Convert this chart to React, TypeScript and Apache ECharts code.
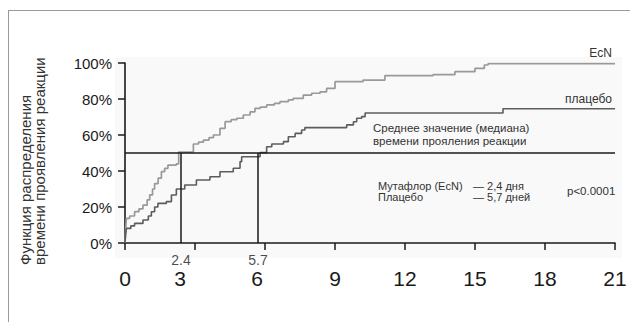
import React, { useEffect, useRef } from 'react';
import * as echarts from 'echarts';

const xTickValues = [0, 3, 6, 9, 12, 15, 18, 21];
const yTickValues = [0, 20, 40, 60, 80, 100];

const ecnDays = [0, 0.03, 0.06, 0.2, 0.41, 0.6, 0.77, 0.95, 1.06, 1.18, 1.27, 1.42, 1.56, 1.7, 1.84, 2.2, 2.3, 2.86, 2.93, 3.15, 3.36, 3.6, 3.79, 4.07, 4.29, 4.55, 4.79, 5.07, 5.36, 5.57, 5.8, 6.07, 6.4, 6.64, 7.0, 7.21, 7.64, 8.0, 8.36, 8.64, 9.0, 10.2, 11.14, 13.2, 14.14, 15.0, 15.4, 15.56, 21];
const ecnPct = [0, 8, 13.7, 15, 17.4, 19, 21, 24, 26.7, 30, 33, 36, 39.6, 41.5, 43.3, 44, 50.5, 50.7, 55, 56, 57.2, 58.5, 60, 63.7, 67.4, 68.5, 69.3, 71.1, 72.9, 74.8, 75.5, 76.7, 77.6, 78.5, 79.5, 80.4, 82.2, 83.2, 84, 85.9, 89.6, 90.5, 93, 93.5, 95.2, 97, 98.9, 99.6, 99.6];

const placeboDays = [0, 0.03, 0.06, 0.25, 0.41, 0.77, 1.0, 1.13, 1.27, 1.41, 1.77, 1.99, 2.2, 2.56, 3.06, 3.64, 4.07, 4.64, 4.93, 5.0, 5.79, 6.07, 6.29, 6.79, 7.0, 7.29, 7.57, 7.71, 9.5, 9.79, 9.93, 10.14, 10.29, 16.2, 21];
const placeboPct = [0, 5, 8.1, 9.5, 10.9, 12.8, 15, 17.4, 20, 22, 23, 26.7, 30, 32.2, 35, 36.8, 39.6, 41.5, 45.2, 47.9, 50.2, 53.5, 55, 56.3, 59, 60.9, 62.8, 64.1, 65.6, 67.4, 69.3, 70.2, 72.2, 74.6, 74.6];

const medianDays = [2.4, 5.7];
const medianLabels = ['2.4', '5.7'];
const medianLevel = 50;
const seriesNames = ['EcN', 'плацебо'];

export default function App() {
  const ref = useRef<HTMLDivElement>(null);
  useEffect(() => {
    const chart = echarts.init(ref.current!, null, { renderer: 'svg' });
    const font = "'Liberation Sans', Arial, Helvetica, sans-serif";
    const pair = (d: number[], p: number[]) => d.map((x, i) => [x, p[i]]);
    const labelShift: Record<string, number> = { '3': 30, '6': 16 };
    const axisColor = '#1a1a1a';
    const xMax = xTickValues[xTickValues.length - 1];
    const yMax = yTickValues[yTickValues.length - 1];

    const medianSeries = medianDays.map((d) => ({
      type: 'line',
      data: [[d, 0], [d, medianLevel]],
      symbol: 'none',
      silent: true,
      z: 4,
      lineStyle: { color: axisColor, width: 1.5 },
    }));

    chart.setOption({
      animation: false,
      grid: { left: 125, top: 63, width: 490, height: 180 },
      xAxis: {
        type: 'value',
        min: 0,
        max: xMax,
        interval: 3,
        axisLine: { lineStyle: { color: axisColor, width: 1.6 } },
        axisTick: { length: 7, lineStyle: { color: axisColor, width: 1.5 } },
        splitLine: { show: false },
        axisLabel: {
          margin: 25,
          fontSize: 21,
          color: axisColor,
          fontFamily: font,
          formatter: (v: number) => {
            const s = String(v);
            return labelShift[s] ? `{s${s}|${s}}` : s;
          },
          rich: {
            s3: { padding: [0, labelShift['3'], 0, 0], fontSize: 21, color: axisColor, fontFamily: font },
            s6: { padding: [0, labelShift['6'], 0, 0], fontSize: 21, color: axisColor, fontFamily: font },
          },
        },
      },
      yAxis: {
        type: 'value',
        min: 0,
        max: yMax,
        interval: 20,
        axisLine: { show: true, lineStyle: { color: axisColor, width: 1.6 } },
        axisTick: { show: true, length: 7, lineStyle: { color: axisColor, width: 1.5 } },
        splitLine: { show: false },
        axisLabel: { margin: 13, fontSize: 15, color: axisColor, fontFamily: font, formatter: '{value}%' },
      },
      series: [
        {
          name: seriesNames[0],
          type: 'line',
          step: 'end',
          data: pair(ecnDays, ecnPct),
          symbol: 'none',
          z: 3,
          lineStyle: { color: '#999999', width: 1.7 },
        },
        {
          name: seriesNames[1],
          type: 'line',
          step: 'end',
          data: pair(placeboDays, placeboPct),
          symbol: 'none',
          z: 3,
          lineStyle: { color: '#5c5c5c', width: 1.6 },
        },
        {
          type: 'line',
          data: [[0, medianLevel], [xMax, medianLevel]],
          symbol: 'none',
          silent: true,
          z: 4,
          lineStyle: { color: axisColor, width: 1.5 },
        },
        ...medianSeries,
        {
          type: 'scatter',
          data: medianDays.map((d, i) => ({ value: [d, 0], name: medianLabels[i] })),
          symbolSize: 0,
          silent: true,
          label: {
            show: true,
            position: 'bottom',
            distance: 10,
            formatter: (p: any) => p.name,
            fontSize: 14,
            color: axisColor,
            fontFamily: font,
          },
        },
      ],
      graphic: [
        { type: 'rect', z: -100, shape: { x: 115, y: 57, width: 507, height: 201 }, style: { fill: '#f9f9f9' } },
        { type: 'line', shape: { x1: 8, y1: 10.5, x2: 630, y2: 10.5 }, style: { stroke: '#9a9a9a', lineWidth: 1 } },
        { type: 'line', shape: { x1: 8.5, y1: 10, x2: 8.5, y2: 322 }, style: { stroke: '#9a9a9a', lineWidth: 1 } },
        {
          type: 'text',
          x: 19,
          y: 265,
          rotation: Math.PI / 2,
          style: {
            text: 'Функция распределения\nвремени проявления реакции',
            font: `15px ${font}`,
            fill: '#333',
            textAlign: 'left',
            textVerticalAlign: 'top',
            lineHeight: 13.5,
          },
        },
        { type: 'text', x: 612, y: 53, style: { text: seriesNames[0], font: `12px ${font}`, fill: '#333', textAlign: 'right', textVerticalAlign: 'middle' } },
        { type: 'text', x: 612, y: 99, style: { text: seriesNames[1], font: `12px ${font}`, fill: '#333', textAlign: 'right', textVerticalAlign: 'middle' } },
        {
          type: 'text',
          x: 373,
          y: 121,
          style: {
            text: 'Среднее значение (медиана)\nвремени прояления реакции',
            font: `11.5px ${font}`,
            fill: '#333',
            textAlign: 'left',
            textVerticalAlign: 'top',
            lineHeight: 13,
          },
        },
        {
          type: 'text',
          x: 378,
          y: 180,
          style: { text: 'Мутафлор (EcN)\nПлацебо', font: `11px ${font}`, fill: '#333', textAlign: 'left', textVerticalAlign: 'top', lineHeight: 11.5 },
        },
        {
          type: 'text',
          x: 473,
          y: 180,
          style: { text: '— 2,4 дня\n— 5,7 дней', font: `11px ${font}`, fill: '#333', textAlign: 'left', textVerticalAlign: 'top', lineHeight: 11.5 },
        },
        { type: 'text', x: 567, y: 191, style: { text: 'p<0.0001', font: `11.5px ${font}`, fill: '#333', textAlign: 'left', textVerticalAlign: 'middle' } },
      ],
    });
    return () => chart.dispose();
  }, []);
  return <div ref={ref} style={{ position: 'fixed', left: 0, top: 0, width: 630, height: 322, background: '#fff' }} />;
}
